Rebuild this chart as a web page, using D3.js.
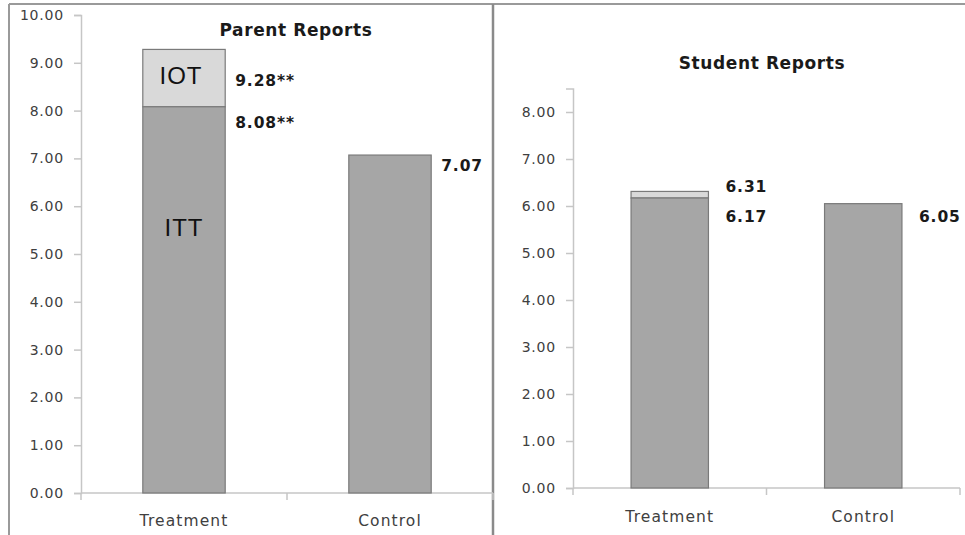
<!DOCTYPE html>
<html><head><meta charset="utf-8">
<script src="https://cdn.jsdelivr.net/npm/d3@7"></script>
<style>
html,body{margin:0;padding:0;background:#fff;}
svg{display:block;font-family:"DejaVu Sans",sans-serif;}
</style></head>
<body>
<svg id="chart" width="965" height="535"></svg>
<script>
// ---- data ----
const categories = ["Treatment", "Control"];
const parentITT = [8.08, 7.07];
const parentIOT = [9.28, null];
const parentLabels = ["8.08**", "7.07"];
const parentIOTLabels = ["9.28**", null];
const studentITT = [6.17, 6.05];
const studentIOT = [6.31, null];
const studentLabels = ["6.17", "6.05"];
const studentIOTLabels = ["6.31", null];
const parentTicks = [0, 1, 2, 3, 4, 5, 6, 7, 8, 9, 10];
const studentTicks = [0, 1, 2, 3, 4, 5, 6, 7, 8];
const titles = ["Parent Reports", "Student Reports"];

const svg = d3.select("#chart");
const ittColor = "#a6a6a6", iotColor = "#d9d9d9", barStroke = "#7a7a7a";
const axisColor = "#c6c6c6", textColor = "#404040";

// frame
svg.append("line").attr("x1", 9).attr("x2", 965).attr("y1", 4).attr("y2", 4).attr("stroke", "#9a9a9a").attr("stroke-width", 2);
svg.append("line").attr("x1", 9).attr("x2", 9).attr("y1", 4).attr("y2", 535).attr("stroke", "#9a9a9a").attr("stroke-width", 2);
svg.append("line").attr("x1", 493).attr("x2", 493).attr("y1", 4).attr("y2", 535).attr("stroke", "#8a8a8a").attr("stroke-width", 2.5);

function panel(cfg) {
  const x = d3.scaleBand().domain(categories).range([cfg.x0, cfg.x1]).paddingInner(0.6).paddingOuter(0.3);
  const y = d3.scaleLinear().domain([0, cfg.yMax]).range([cfg.y0, cfg.y1]);
  const g = svg.append("g");

  // y axis
  const ya = d3.axisLeft(y).tickValues(cfg.ticks).tickFormat(d3.format(".2f")).tickSizeOuter(0).tickSize(7).tickPadding(10);
  const yg = g.append("g").attr("transform", `translate(${cfg.x0},0)`).call(ya);
  yg.select(".domain").attr("stroke", axisColor).attr("stroke-width", 1.5);
  yg.selectAll(".tick line").attr("stroke", axisColor).attr("stroke-width", 1.5);
  yg.selectAll(".tick text").attr("fill", textColor).attr("font-size", 14).attr("letter-spacing", 0.8)
    .attr("font-family", "DejaVu Sans");

  // x axis line and ticks at band boundaries
  g.append("line").attr("x1", cfg.x0).attr("x2", cfg.x1).attr("y1", cfg.y0).attr("y2", cfg.y0)
    .attr("stroke", axisColor).attr("stroke-width", 1.5);
  const bounds = [cfg.x0, (cfg.x0 + cfg.x1) / 2, cfg.x1];
  g.selectAll(".xt").data(bounds).enter().append("line")
    .attr("x1", d => d).attr("x2", d => d).attr("y1", cfg.y0).attr("y2", cfg.y0 + 7)
    .attr("stroke", axisColor).attr("stroke-width", 1.5);
  g.selectAll(".xl").data(categories).enter().append("text")
    .attr("x", d => x(d) + x.bandwidth() / 2).attr("y", cfg.catY)
    .attr("text-anchor", "middle").attr("fill", textColor).attr("font-size", 15.5).attr("letter-spacing", 1.1)
    .text(d => d);

  // IOT segments
  g.selectAll(".iot").data(categories.map((c, i) => ({c, lo: cfg.itt[i], hi: cfg.iot[i]})).filter(d => d.hi != null))
    .enter().append("rect")
    .attr("x", d => x(d.c)).attr("width", x.bandwidth())
    .attr("y", d => y(d.hi)).attr("height", d => y(d.lo) - y(d.hi))
    .attr("fill", iotColor).attr("stroke", barStroke).attr("stroke-width", 1.2);
  // ITT bars
  g.selectAll(".itt").data(categories.map((c, i) => ({c, v: cfg.itt[i]}))).enter().append("rect")
    .attr("x", d => x(d.c)).attr("width", x.bandwidth())
    .attr("y", d => y(d.v)).attr("height", d => y(0) - y(d.v))
    .attr("fill", ittColor).attr("stroke", barStroke).attr("stroke-width", 1.2);

  // value labels
  categories.forEach((c, i) => {
    g.append("text").attr("x", x(c) + x.bandwidth() + cfg.labDx).attr("y", y(cfg.itt[i]) + cfg.ittDy[i])
      .attr("font-weight", "bold").attr("font-size", 15.5).attr("letter-spacing", 0.9).attr("fill", "#1a1a1a")
      .text(cfg.ittLab[i]);
    if (cfg.iotLab[i]) {
      g.append("text").attr("x", x(c) + x.bandwidth() + cfg.labDx).attr("y", y(cfg.iot[i]) + cfg.iotDy)
        .attr("font-weight", "bold").attr("font-size", 15.5).attr("letter-spacing", 0.9).attr("fill", "#1a1a1a")
        .text(cfg.iotLab[i]);
    }
  });

  // title
  g.append("text").attr("x", cfg.titleX).attr("y", cfg.titleY).attr("text-anchor", "middle")
    .attr("font-weight", "bold").attr("font-size", 17).attr("letter-spacing", 0.6).attr("fill", "#1a1a1a")
    .text(cfg.title);
  return {x, y, g};
}

const p = panel({x0: 81, x1: 493, y0: 493, y1: 15, yMax: 10, ticks: parentTicks,
  itt: parentITT, iot: parentIOT, ittLab: parentLabels, iotLab: parentIOTLabels,
  labDx: 10, ittDy: [21, 16], iotDy: 37, title: titles[0], titleX: 296, titleY: 36, catY: 526});
// in-bar series names
p.g.append("text").attr("x", p.x("Treatment") + p.x.bandwidth() / 2 - 3).attr("y", 84)
  .attr("text-anchor", "middle").attr("font-size", 24).attr("letter-spacing", 1).attr("fill", "#111").attr("font-family", "Liberation Sans").text("IOT");
p.g.append("text").attr("x", p.x("Treatment") + p.x.bandwidth() / 2).attr("y", 236)
  .attr("text-anchor", "middle").attr("font-size", 24).attr("letter-spacing", 1).attr("fill", "#111").attr("font-family", "Liberation Sans").text("ITT");

panel({x0: 573, x1: 960, y0: 488, y1: 88.5, yMax: 8.5, ticks: studentTicks,
  itt: studentITT, iot: studentIOT, ittLab: studentLabels, iotLab: studentIOTLabels,
  labDx: 17, ittDy: [24, 18], iotDy: 1, title: titles[1], titleX: 762, titleY: 69, catY: 522});
</script>
</body></html>
